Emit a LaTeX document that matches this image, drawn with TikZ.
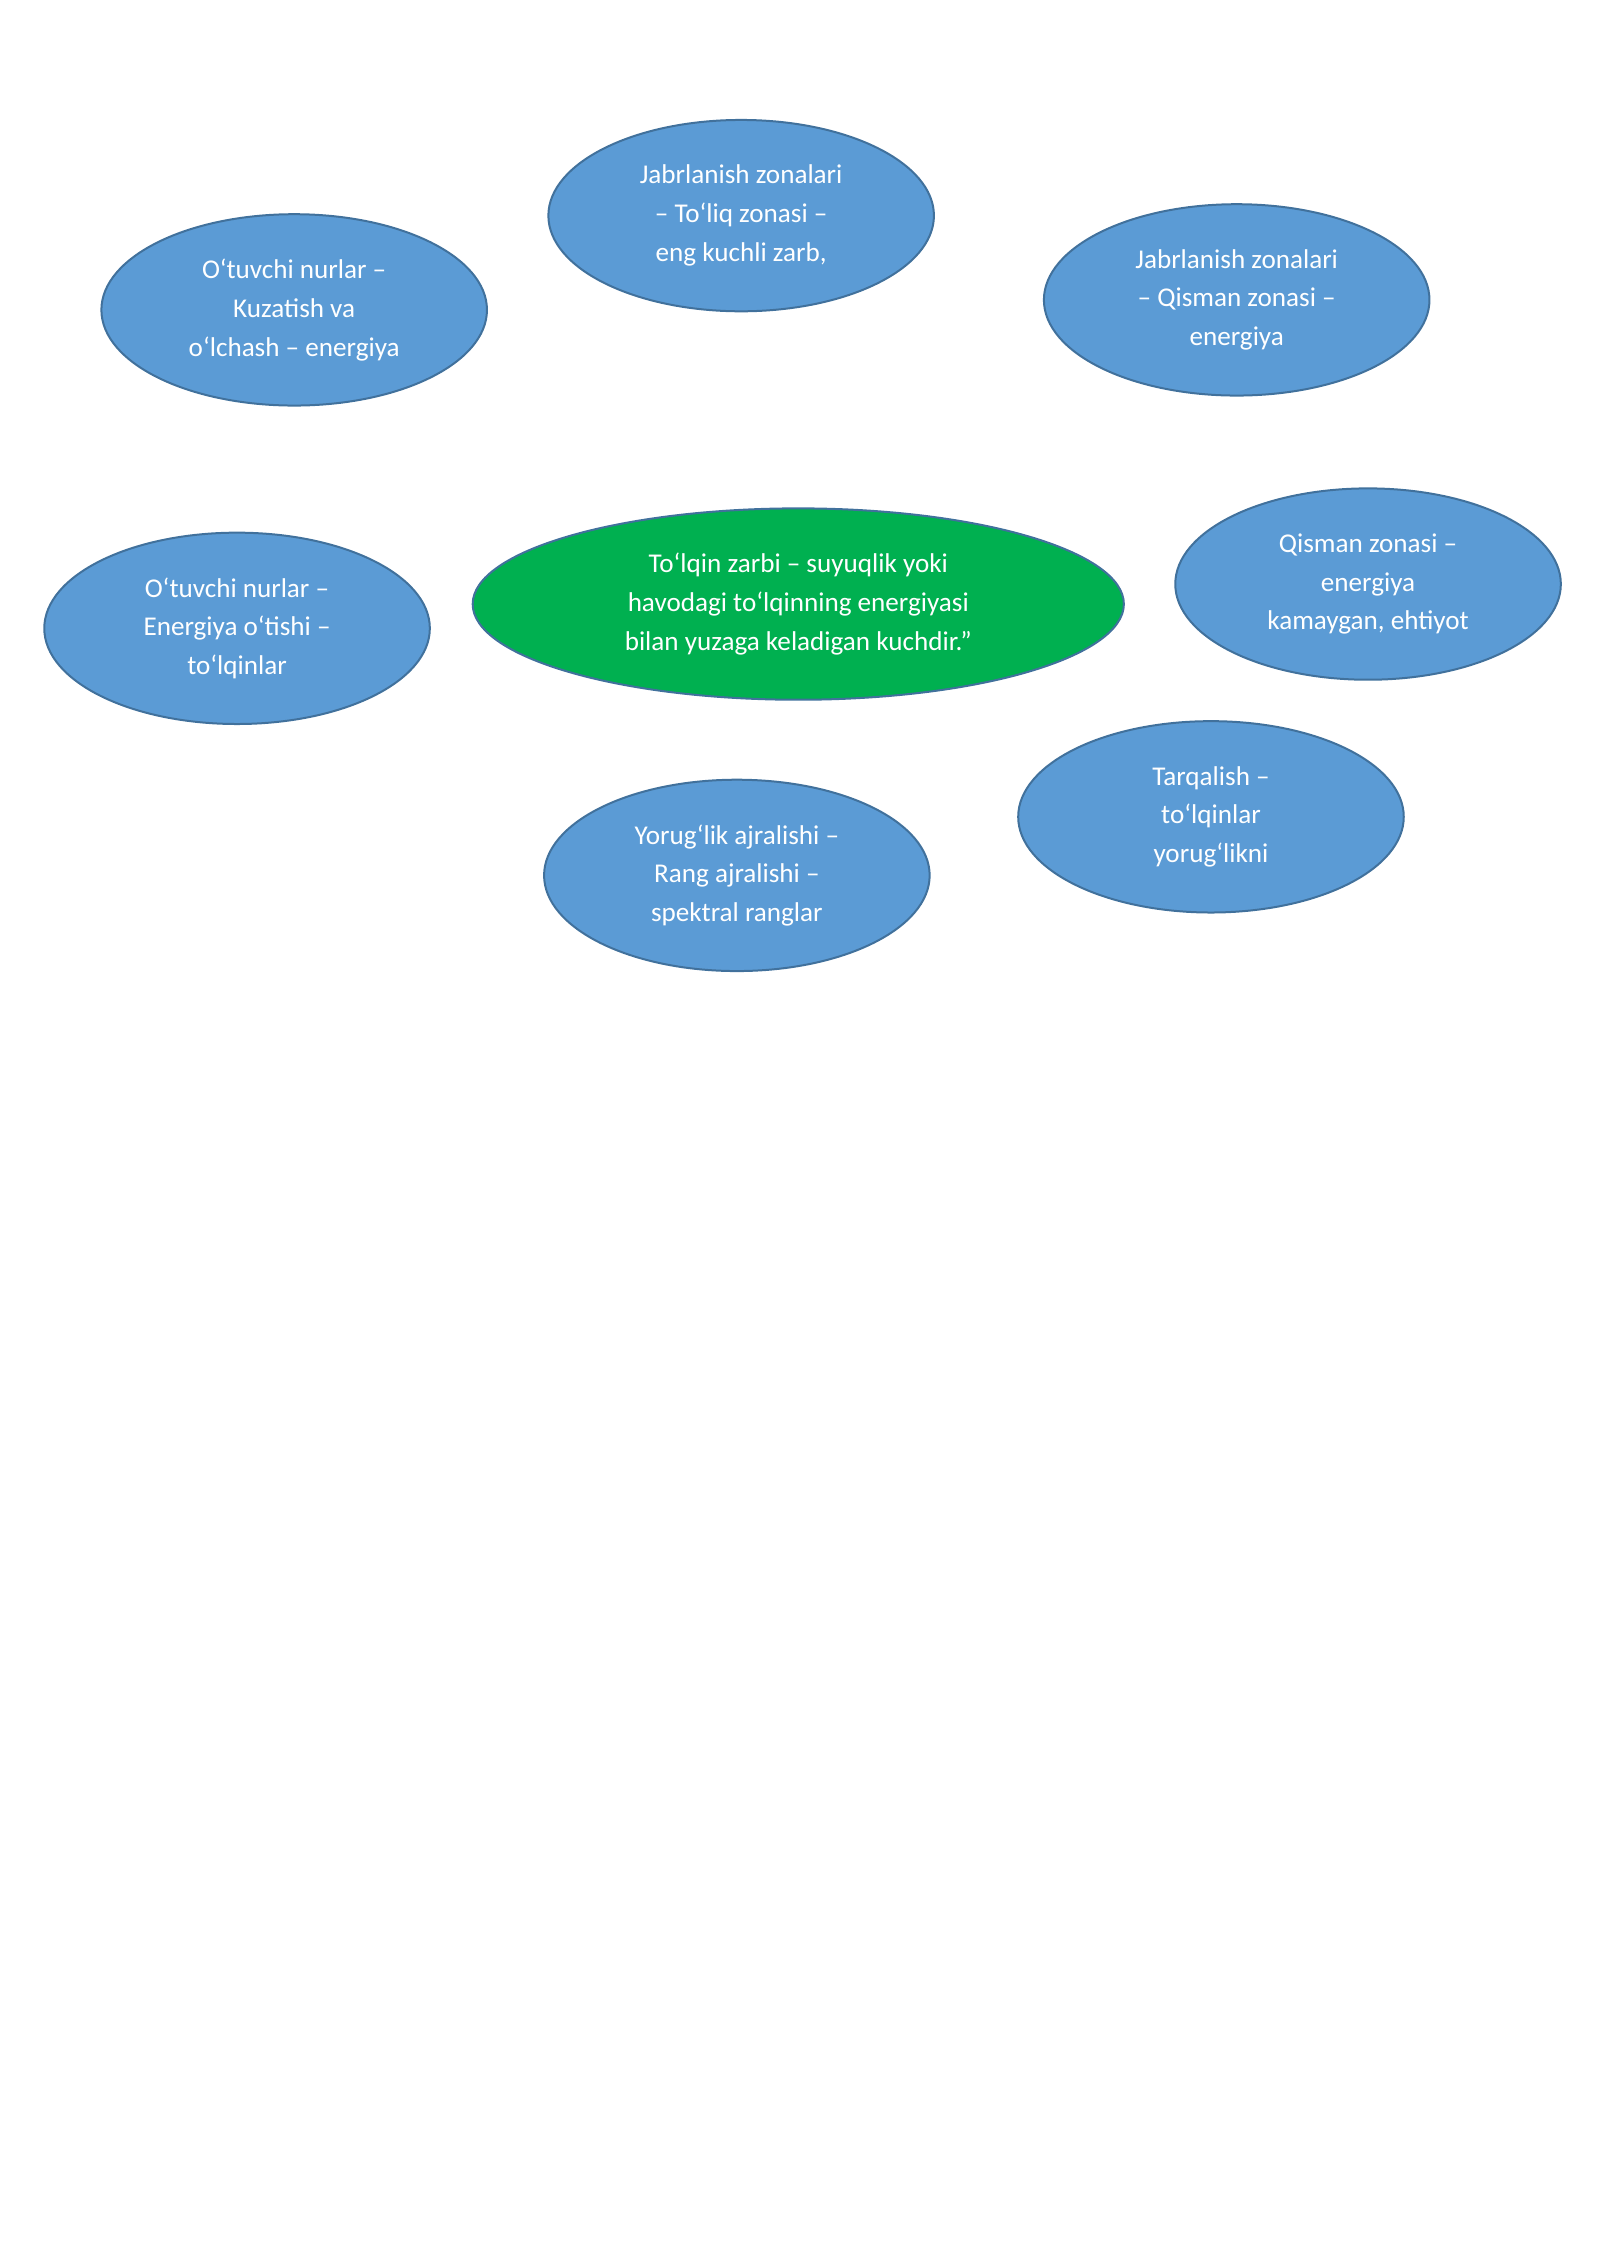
\documentclass[tikz,border=0pt]{standalone}
\usepackage{fontspec}
\setmainfont{Carlito}
\usetikzlibrary{shapes.geometric}
\definecolor{bl}{HTML}{5B9BD5}
\definecolor{bd}{HTML}{41719C}
\definecolor{gr}{HTML}{00B050}
\tikzset{bub/.style={ellipse,draw=bd,line width=0.7pt,fill=bl,minimum width=135pt,minimum height=67pt,text=white,align=center,font=\fontsize{9.5}{13.6}\selectfont,inner sep=0pt},
grn/.style={bub,fill=gr,minimum width=228pt}}
\begin{document}
\begin{tikzpicture}[x=0.5pt,y=-0.5pt]
\useasboundingbox (0,0) rectangle (1120,1584);
\node[bub] (a) at (519,151) {Jabrlanish zonalari\\– To‘liq zonasi –\\eng kuchli zarb,};
\node[bub] (b) at (206,217) {O‘tuvchi nurlar –\\Kuzatish va\\o‘lchash – energiya};
\node[bub] (c) at (866,210) {Jabrlanish zonalari\\– Qisman zonasi –\\energiya};
\node[bub] (d) at (166,440) {O‘tuvchi nurlar –\\Energiya o‘tishi –\\to‘lqinlar};
\node[grn] (e) at (559,423) {To‘lqin zarbi – suyuqlik yoki\\havodagi to‘lqinning energiyasi\\bilan yuzaga keladigan kuchdir.”};
\node[bub] (f) at (958,409) {Qisman zonasi –\\energiya\\kamaygan, ehtiyot};
\node[bub] (g) at (848,572) {Tarqalish –\\to‘lqinlar\\yorug‘likni};
\node[bub] (h) at (516,613) {Yorug‘lik ajralishi –\\Rang ajralishi –\\spektral ranglar};
\end{tikzpicture}
\end{document}
